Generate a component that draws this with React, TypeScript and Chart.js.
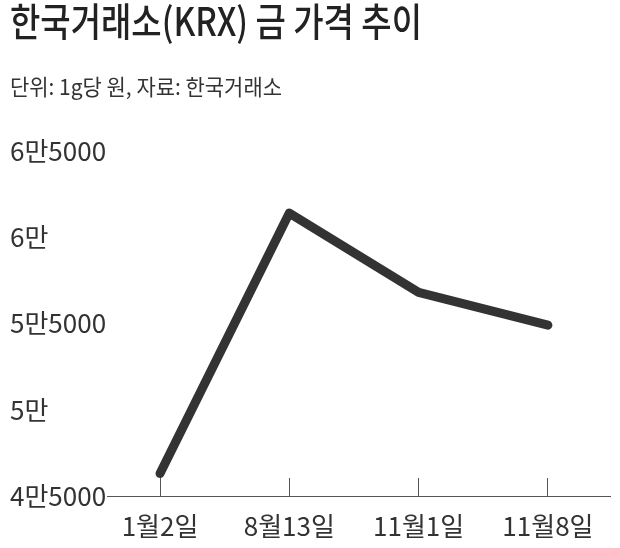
import React, { useEffect, useRef } from "react";
import { Chart, registerables } from "chart.js";

Chart.register(...registerables);

const titleText = "한국거래소(KRX) 금 가격 추이";
const subtitleText = "단위: 1g당 원, 자료: 한국거래소";
const categories = ["1월2일", "8월13일", "11월1일", "11월8일"];
const prices = [46300, 61400, 56800, 54900];
const yTickValues = [45000, 50000, 55000, 60000, 65000];
const yTickLabels = ["4만5000", "5만", "5만5000", "6만", "6만5000"];

const FONT = '"Noto Sans CJK KR", sans-serif';

export default function App() {
  const canvasRef = useRef<HTMLCanvasElement | null>(null);
  const titleRef = useRef<HTMLSpanElement | null>(null);
  const subRef = useRef<HTMLSpanElement | null>(null);

  useEffect(() => {
    const fit = (el: HTMLSpanElement | null, target: number) => {
      if (!el) return;
      el.style.transform = "none";
      const w = el.getBoundingClientRect().width;
      if (w > 0) el.style.transform = `scaleX(${target / w})`;
    };
    fit(titleRef.current, 412);
    fit(subRef.current, 272);

    const canvas = canvasRef.current;
    if (!canvas) return;
    const chart = new Chart(canvas, {
      type: "line",
      data: {
        datasets: [
          {
            data: prices.map((v, i) => ({ x: i, y: v })),
            borderColor: "#333333",
            borderWidth: 9,
            borderCapStyle: "round",
            borderJoinStyle: "round",
            pointRadius: 0,
            tension: 0,
            clip: false as any,
          },
        ],
      },
      options: {
        animation: false,
        responsive: false,
        maintainAspectRatio: false,
        layout: { padding: { top: 151, left: 10, right: 10, bottom: 0 } },
        plugins: {
          legend: { display: false },
          tooltip: { enabled: false },
        },
        scales: {
          x: {
            type: "linear",
            min: -0.41,
            max: 3.48,
            afterBuildTicks: (s: any) => {
              s.ticks = categories.map((_, i) => ({ value: i }));
            },
            afterFit: (s: any) => {
              s.height = 52;
              s.paddingLeft = 0;
              s.paddingRight = 0;
            },
            grid: {
              display: true,
              drawOnChartArea: false,
              drawTicks: true,
              tickLength: -18,
              color: "#555555",
              lineWidth: 1,
            },
            border: { display: true, color: "#555555", width: 1 },
            ticks: {
              callback: (v: any) => categories[Math.round(Number(v))] ?? "",
              font: { family: FONT, size: 26 },
              color: "#333333",
              padding: 33,
              maxRotation: 0,
              autoSkip: false,
            },
          },
          y: {
            type: "linear",
            min: 45000,
            max: 65000,
            afterBuildTicks: (s: any) => {
              s.ticks = yTickValues.map((v) => ({ value: v }));
            },
            afterFit: (s: any) => {
              s.width = 97;
              s.paddingTop = 0;
              s.paddingBottom = 0;
            },
            grid: { display: false },
            border: { display: false },
            ticks: {
              callback: (v: any) => yTickLabels[yTickValues.indexOf(Number(v))] ?? "",
              crossAlign: "far",
              font: { family: FONT, size: 26 },
              color: "#333333",
              padding: 0,
            },
          },
        },
      },
    });
    return () => chart.destroy();
  }, []);

  return (
    <div
      style={{
        position: "absolute",
        left: 0,
        top: 0,
        width: 620,
        height: 548,
        background: "#ffffff",
        overflow: "hidden",
      }}
    >
      <canvas
        ref={canvasRef}
        width={620}
        height={548}
        style={{ position: "absolute", left: 0, top: 0, width: 620, height: 548, display: "block" }}
      />
      <div
        style={{
          position: "absolute",
          left: 10,
          top: 0,
          whiteSpace: "nowrap",
          fontFamily: '"Noto Sans CJK KR", sans-serif',
          fontSize: 39,
          lineHeight: 1,
          fontWeight: 500,
          color: "#222222",
        }}
      >
        <span ref={titleRef} style={{ display: "inline-block", transformOrigin: "left top" }}>
          {titleText}
        </span>
      </div>
      <div
        style={{
          position: "absolute",
          left: 10,
          top: 74,
          whiteSpace: "nowrap",
          fontFamily: '"Noto Sans CJK KR", sans-serif',
          fontSize: 22,
          lineHeight: 1,
          fontWeight: 400,
          color: "#333333",
        }}
      >
        <span ref={subRef} style={{ display: "inline-block", transformOrigin: "left top" }}>
          {subtitleText}
        </span>
      </div>
    </div>
  );
}
